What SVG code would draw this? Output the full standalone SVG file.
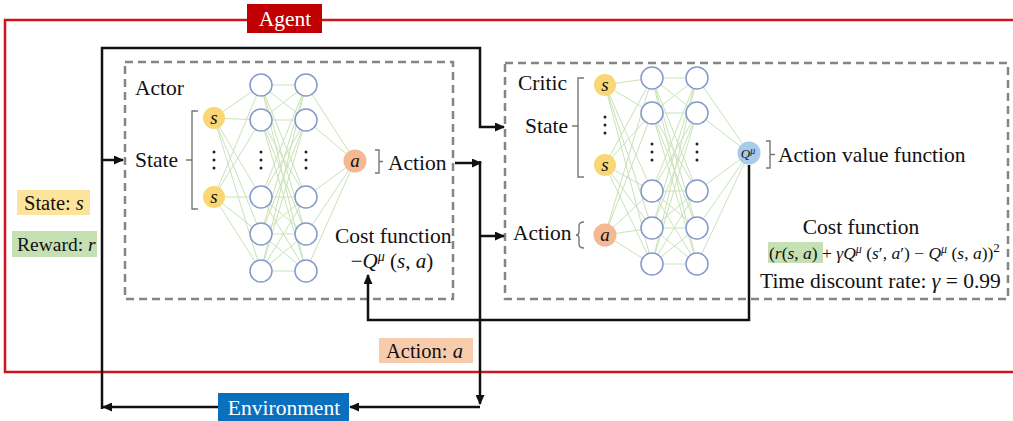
<svg xmlns="http://www.w3.org/2000/svg" width="1013" height="421" viewBox="0 0 1013 421">
  <defs>
    <marker id="arrow" markerUnits="userSpaceOnUse" markerWidth="10" markerHeight="9" refX="9" refY="4.5" orient="auto">
      <path d="M0,0 L10,4.5 L0,9 z" fill="#111"/>
    </marker>
    <style>
      text { font-family: "Liberation Serif", "Times New Roman", serif; fill: #111; }
      .lbl { font-size: 21.5px; }
      .tag { font-size: 20.5px; }
      .it { font-style: italic; }
      .flow { fill: none; stroke: #111; stroke-width: 2.5; }
      .dash { fill: none; stroke: #858585; stroke-width: 2.5; stroke-dasharray: 8 5; }
      .syn { fill: none; stroke: #c9e2b8; stroke-width: 1; }
      .hid { fill: #fff; stroke: #8499cc; stroke-width: 1.5; }
      .inS { fill: #f9d774; }
      .inA { fill: #f5b893; }
      .outQ { fill: #a8cbea; }
      .brk { fill: none; stroke: #777; stroke-width: 1.4; }
      .dots { fill: #222; }
      .nodeTxt { font-size: 19px; font-style: italic; }
    </style>
  </defs>

  <rect width="1013" height="421" fill="#fff"/>

  <!-- Agent boundary -->
  <g id="agent">
    <path d="M1013 20 H5 V372 H1013" fill="none" stroke="#d0141c" stroke-width="2.5"/>
    <rect x="247" y="4" width="75" height="29" fill="#c00000"/>
    <text x="285" y="26" text-anchor="middle" class="lbl" style="fill:#fff">Agent</text>
  </g>

  <!-- Environment -->
  <g id="environment">
    <rect x="218" y="393" width="131" height="28" fill="#0a6fbd"/>
    <text x="284" y="415" text-anchor="middle" class="lbl" style="fill:#fff">Environment</text>
  </g>

  <!-- Signal tags -->
  <g id="tag-state">
    <rect x="17" y="190" width="73" height="25" fill="#fde49c"/>
    <text x="24" y="210" class="tag">State: <tspan class="it">s</tspan></text>
  </g>
  <g id="tag-reward">
    <rect x="12" y="231" width="85" height="26" fill="#c5e0b3"/>
    <text x="17" y="251" style="font-size:19.5px">Reward: <tspan class="it">r</tspan></text>
  </g>
  <g id="tag-action">
    <rect x="379" y="338" width="94" height="25" fill="#f8cbad"/>
    <text x="386" y="358" class="tag">Action: <tspan class="it">a</tspan></text>
  </g>

  <!-- Actor network -->
  <g id="actor">
    <rect x="125" y="62" width="328" height="237" class="dash"/>
    <text x="135" y="95" class="lbl">Actor</text>
    <text x="135" y="167" class="lbl">State</text>
    <path d="M198 111 H192 V209 H198 M192 160 H186" class="brk"/>
    <!-- synapses -->
    <path class="syn" d="
      M214 118 L261 85 M214 118 L261 120 M214 118 L261 197 M214 118 L261 234 M214 118 L261 271
      M214 197 L261 85 M214 197 L261 120 M214 197 L261 197 M214 197 L261 234 M214 197 L261 271
      M261 85 L306 85 M261 85 L306 120 M261 85 L306 197 M261 85 L306 234 M261 85 L306 271
      M261 120 L306 85 M261 120 L306 120 M261 120 L306 197 M261 120 L306 234 M261 120 L306 271
      M261 197 L306 85 M261 197 L306 120 M261 197 L306 197 M261 197 L306 234 M261 197 L306 271
      M261 234 L306 85 M261 234 L306 120 M261 234 L306 197 M261 234 L306 234 M261 234 L306 271
      M261 271 L306 85 M261 271 L306 120 M261 271 L306 197 M261 271 L306 234 M261 271 L306 271
      M306 85 L355 161 M306 120 L355 161 M306 197 L355 161 M306 234 L355 161 M306 271 L355 161"/>
    <circle cx="214" cy="118" r="11" class="inS"/>
    <circle cx="214" cy="197" r="11" class="inS"/>
    <text x="214" y="124" text-anchor="middle" class="nodeTxt">s</text>
    <text x="214" y="203" text-anchor="middle" class="nodeTxt">s</text>
    <g class="dots">
      <circle cx="214" cy="152" r="1.5"/><circle cx="214" cy="160" r="1.5"/><circle cx="214" cy="168" r="1.5"/>
      <circle cx="261" cy="152" r="1.5"/><circle cx="261" cy="160" r="1.5"/><circle cx="261" cy="168" r="1.5"/>
      <circle cx="306" cy="152" r="1.5"/><circle cx="306" cy="160" r="1.5"/><circle cx="306" cy="168" r="1.5"/>
    </g>
    <circle cx="261" cy="85" r="11" class="hid"/>
    <circle cx="261" cy="120" r="11" class="hid"/>
    <circle cx="261" cy="197" r="11" class="hid"/>
    <circle cx="261" cy="234" r="11" class="hid"/>
    <circle cx="261" cy="271" r="11" class="hid"/>
    <circle cx="306" cy="85" r="11" class="hid"/>
    <circle cx="306" cy="120" r="11" class="hid"/>
    <circle cx="306" cy="197" r="11" class="hid"/>
    <circle cx="306" cy="234" r="11" class="hid"/>
    <circle cx="306" cy="271" r="11" class="hid"/>
    <circle cx="355" cy="161" r="11.5" class="inA"/>
    <text x="355" y="167" text-anchor="middle" class="nodeTxt">a</text>
    <path d="M375 150 H379 V173 H375 M379 161.5 H383" class="brk"/>
    <text x="388" y="170" class="lbl">Action</text>
    <text x="335" y="243" class="lbl">Cost function</text>
    <text x="392" y="268" text-anchor="middle" style="font-size:21px">−<tspan class="it">Q</tspan><tspan class="it" dy="-7" style="font-size:14px">μ</tspan><tspan dy="7"> (</tspan><tspan class="it">s</tspan>, <tspan class="it">a</tspan>)</text>
  </g>

  <!-- Critic network -->
  <g id="critic">
    <rect x="505" y="63" width="503" height="236" class="dash"/>
    <text x="518" y="90" class="lbl">Critic</text>
    <text x="525" y="133" class="lbl">State</text>
    <path d="M584 78 H578 V177 H584 M578 126 H572" class="brk"/>
    <text x="513" y="240" class="lbl">Action</text>
    <path d="M584 222 Q579 222 579 226 V232 Q579 235 576 235 Q579 235 579 238 V244 Q579 248 584 248" class="brk"/>
    <!-- synapses -->
    <path class="syn" d="
      M605 85 L652 78 M605 85 L652 113 M605 85 L652 191 M605 85 L652 228 M605 85 L652 264
      M605 165 L652 78 M605 165 L652 113 M605 165 L652 191 M605 165 L652 228 M605 165 L652 264
      M605 235 L652 78 M605 235 L652 113 M605 235 L652 191 M605 235 L652 228 M605 235 L652 264
      M652 78 L697 78 M652 78 L697 113 M652 78 L697 191 M652 78 L697 228 M652 78 L697 264
      M652 113 L697 78 M652 113 L697 113 M652 113 L697 191 M652 113 L697 228 M652 113 L697 264
      M652 191 L697 78 M652 191 L697 113 M652 191 L697 191 M652 191 L697 228 M652 191 L697 264
      M652 228 L697 78 M652 228 L697 113 M652 228 L697 191 M652 228 L697 228 M652 228 L697 264
      M652 264 L697 78 M652 264 L697 113 M652 264 L697 191 M652 264 L697 228 M652 264 L697 264
      M697 78 L749 153 M697 113 L749 153 M697 191 L749 153 M697 228 L749 153 M697 264 L749 153"/>
    <circle cx="605" cy="85" r="11" class="inS"/>
    <circle cx="605" cy="165" r="11" class="inS"/>
    <circle cx="605" cy="235" r="11.5" class="inA"/>
    <text x="605" y="91" text-anchor="middle" class="nodeTxt">s</text>
    <text x="605" y="171" text-anchor="middle" class="nodeTxt">s</text>
    <text x="605" y="241" text-anchor="middle" class="nodeTxt">a</text>
    <g class="dots">
      <circle cx="605" cy="117" r="1.5"/><circle cx="605" cy="125" r="1.5"/><circle cx="605" cy="133" r="1.5"/>
      <circle cx="652" cy="144" r="1.5"/><circle cx="652" cy="152" r="1.5"/><circle cx="652" cy="160" r="1.5"/>
      <circle cx="697" cy="144" r="1.5"/><circle cx="697" cy="152" r="1.5"/><circle cx="697" cy="160" r="1.5"/>
    </g>
    <circle cx="652" cy="78" r="11" class="hid"/>
    <circle cx="652" cy="113" r="11" class="hid"/>
    <circle cx="652" cy="191" r="11" class="hid"/>
    <circle cx="652" cy="228" r="11" class="hid"/>
    <circle cx="652" cy="264" r="11" class="hid"/>
    <circle cx="697" cy="78" r="11" class="hid"/>
    <circle cx="697" cy="113" r="11" class="hid"/>
    <circle cx="697" cy="191" r="11" class="hid"/>
    <circle cx="697" cy="228" r="11" class="hid"/>
    <circle cx="697" cy="264" r="11" class="hid"/>
    <circle cx="749" cy="153" r="11.5" class="outQ"/>
    <text x="748" y="158" text-anchor="middle" style="font-size:13px"><tspan class="it">Q</tspan><tspan class="it" dy="-4" style="font-size:10px">μ</tspan></text>
    <path d="M766 141 H770 V168 H766 M770 154.5 H775" class="brk"/>
    <text x="778" y="162" class="lbl">Action value function</text>
    <text x="861" y="234" text-anchor="middle" class="lbl">Cost function</text>
    <rect x="768" y="242" width="55" height="21" fill="#c5e0b3"/>
    <text x="769" y="259" style="font-size:17.5px">(<tspan class="it">r</tspan>(<tspan class="it">s</tspan>, <tspan class="it">a</tspan>) + <tspan class="it">γQ</tspan><tspan class="it" dy="-6" style="font-size:12px">μ</tspan><tspan dy="6"> (</tspan><tspan class="it">s</tspan>′, <tspan class="it">a</tspan>′) − <tspan class="it">Q</tspan><tspan class="it" dy="-6" style="font-size:12px">μ</tspan><tspan dy="6"> (</tspan><tspan class="it">s</tspan>, <tspan class="it">a</tspan>))<tspan dy="-7" style="font-size:13px">2</tspan></text>
    <text x="760" y="288" class="lbl">Time discount rate: <tspan class="it">γ</tspan> = 0.99</text>
  </g>

  <!-- Connectors -->
  <g id="connectors">
    <path d="M102 409 V48 H480 V127 H504" class="flow" marker-end="url(#arrow)"/>
    <path d="M102 160 H123" class="flow" marker-end="url(#arrow)"/>
    <path d="M218 407 H103" class="flow" marker-end="url(#arrow)"/>
    <path d="M455 163 H481" class="flow" marker-end="url(#arrow)"/>
    <path d="M480 161 V404" class="flow" marker-end="url(#arrow)"/>
    <path d="M480 407 H350" class="flow" marker-end="url(#arrow)"/>
    <path d="M480 236 H504" class="flow" marker-end="url(#arrow)"/>
    <path d="M749 165 V320 H368 V275" class="flow" marker-end="url(#arrow)"/>
  </g>
</svg>
